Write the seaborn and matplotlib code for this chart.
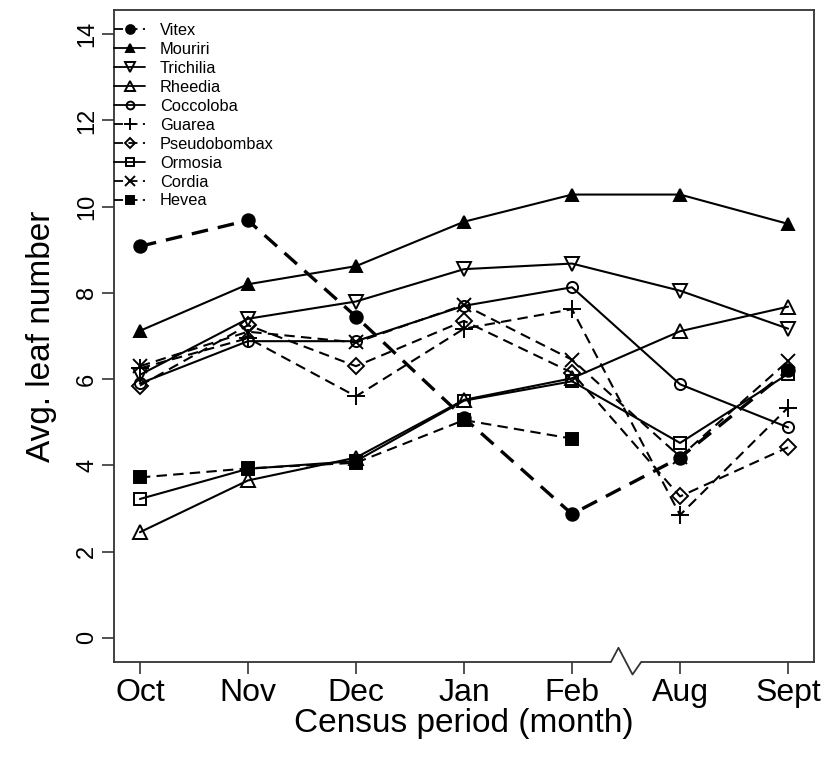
import numpy as np
import pandas as pd
import matplotlib
matplotlib.use("Agg")
import matplotlib.pyplot as plt
import seaborn as sns

months = ['Oct', 'Nov', 'Dec', 'Jan', 'Feb', 'Aug', 'Sept']
vitex = [9.08, 9.68, 7.45, 5.10, 2.87, 4.18, 6.20]
mouriri = [7.12, 8.20, 8.62, 9.65, 10.28, 10.28, 9.60]
trichilia = [6.10, 7.40, 7.80, 8.55, 8.68, 8.05, 7.17]
rheedia = [2.45, 3.65, 4.18, 5.52, 6.02, 7.11, 7.68]
coccoloba = [5.90, 6.88, 6.88, 7.70, 8.13, 5.88, 4.88]
guarea = [6.25, 6.95, 5.60, 7.17, 7.62, 2.85, 5.34]
pseudobombax = [5.85, 7.25, 6.30, 7.35, 6.15, 3.28, 4.42]
ormosia = [3.22, 3.92, 4.10, 5.50, 5.95, 4.52, 6.12]
cordia = [6.30, 7.10, 6.85, 7.72, 6.45, 4.20, 6.42]
hevea = [3.72, 3.93, 4.06, 5.05, 4.62, np.nan, np.nan]

species = ['Vitex', 'Mouriri', 'Trichilia', 'Rheedia', 'Coccoloba', 'Guarea',
           'Pseudobombax', 'Ormosia', 'Cordia', 'Hevea']
values = [vitex, mouriri, trichilia, rheedia, coccoloba, guarea,
          pseudobombax, ormosia, cordia, hevea]

sns.set_style("ticks")
plt.rcParams['font.family'] = ['Liberation Sans', 'DejaVu Sans']
plt.rcParams['text.color'] = 'black'
plt.rcParams['axes.labelcolor'] = 'black'
plt.rcParams['xtick.color'] = 'black'
plt.rcParams['ytick.color'] = 'black'

fig = plt.figure(figsize=(8.27, 7.62), dpi=100)
ax = fig.add_axes([114/827, 1-662/762, (814-114)/827, (662-10)/762])

styles = {
    'Vitex':        dict(marker='o', mfc='black', ls=(0, (5, 3)), lw=2.4, ms=9),
    'Mouriri':      dict(marker='^', mfc='black', ls='-', lw=1.5, ms=9),
    'Trichilia':    dict(marker='v', mfc='none', ls='-', lw=1.5, ms=10),
    'Rheedia':      dict(marker='^', mfc='none', ls='-', lw=1.5, ms=10),
    'Coccoloba':    dict(marker='o', mfc='none', ls='-', lw=1.5, ms=8),
    'Guarea':       dict(marker='+', mfc='none', ls=(0, (5, 3)), lw=1.5, ms=13),
    'Pseudobombax': dict(marker='D', mfc='none', ls=(0, (5, 3)), lw=1.5, ms=8),
    'Ormosia':      dict(marker='s', mfc='none', ls='-', lw=1.5, ms=8),
    'Cordia':       dict(marker='x', mfc='none', ls=(0, (5, 3)), lw=1.5, ms=10),
    'Hevea':        dict(marker='s', mfc='black', ls=(0, (5, 3)), lw=1.5, ms=8),
}

pos = np.arange(1, len(months) + 1)
for name, vals in zip(species, values):
    st = styles[name]
    df = pd.DataFrame({'x': pos, 'y': vals}).dropna()
    sns.lineplot(data=df, x='x', y='y', ax=ax, color='black', label=name,
                 marker=st['marker'], markersize=st['ms'],
                 markerfacecolor=st['mfc'], markeredgecolor='black',
                 markeredgewidth=1.4, linestyle=st['ls'], linewidth=st['lw'],
                 sort=False, estimator=None)

ax.set_xlim(0.76, 7.24)
ax.set_ylim(-0.56, 14.56)
ax.set_xticks(pos)
ax.set_xticklabels(months, fontsize=23)
ax.set_yticks(np.arange(0, 15, 2))
ax.set_yticklabels([str(v) for v in range(0, 15, 2)], fontsize=17,
                   rotation=90, va='center')
ax.tick_params(axis='both', direction='out', length=8.5, width=1.2,
               color='#333333')
ax.tick_params(axis='x', pad=3)
ax.tick_params(axis='y', pad=3)
for sp in ax.spines.values():
    sp.set_visible(True)
    sp.set_linewidth(1.3)
    sp.set_color('#333333')

ax.set_xlabel('Census period (month)', fontsize=24, labelpad=0)
ax.set_ylabel('Avg. leaf number', fontsize=24, labelpad=14)

# axis break on the bottom axis between Feb and Aug
x0, x1 = 5.36, 5.64
ax.plot([x0 + 0.005, x1 - 0.005], [-0.56, -0.56], color='white', lw=3,
        clip_on=False, zorder=10, solid_capstyle='butt')
ax.plot([x0, 5.43, 5.56, x1], [-0.56, -0.23, -0.85, -0.56], color='#333333',
        lw=1.3, clip_on=False, zorder=11)

leg = ax.legend(loc='upper left', bbox_to_anchor=(0.0, 0.98), frameon=False,
                fontsize=11.8, handlelength=1.9, handletextpad=0.9,
                labelspacing=0.24, borderaxespad=0.0, borderpad=0.0,
                markerscale=0.7)
for h in leg.get_lines():
    h.set_linewidth(1.3)

fig.savefig('out.png', dpi=100)
